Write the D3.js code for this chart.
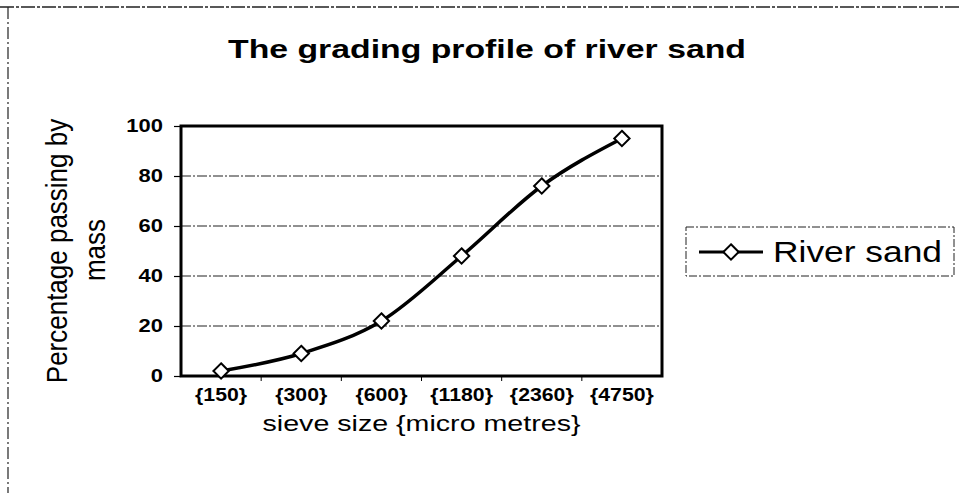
<!DOCTYPE html>
<html>
<head>
<meta charset="utf-8">
<script src="https://cdn.jsdelivr.net/npm/d3@7"></script>
<style>
  html, body { margin: 0; padding: 0; background: #fff; }
  svg { display: block; }
  text { font-family: "Liberation Sans", Arial, sans-serif; fill: #000; }
</style>
</head>
<body>
<svg id="chart" width="960" height="493"></svg>
<script>
// ---- data ----
const categories = ["{150}", "{300}", "{600}", "{1180}", "{2360}", "{4750}"];
const riverSand = [2, 9, 22, 48, 76, 95];
const yTicks = [0, 20, 40, 60, 80, 100];
const seriesName = "River sand";
const titleText = "The grading profile of river sand";
const xTitle = "sieve size {micro metres}";
const yTitleLines = ["Percentage passing by", "mass"];

const svg = d3.select("#chart");
const plot = { left: 181, right: 662, top: 126, bottom: 376 };

const x = d3.scaleBand().domain(categories).range([plot.left, plot.right]).paddingInner(0).paddingOuter(0);
const y = d3.scaleLinear().domain([0, 100]).range([plot.bottom, plot.top]);

// outer chart border (dashed, top & left)
svg.append("line").attr("x1", 0).attr("x2", 960).attr("y1", 7).attr("y2", 7)
  .attr("stroke", "#222").attr("stroke-width", 1.5).attr("stroke-dasharray", "14,2,3,2");
svg.append("line").attr("x1", 8).attr("x2", 8).attr("y1", 7).attr("y2", 493)
  .attr("stroke", "#222").attr("stroke-width", 1.2).attr("stroke-dasharray", "12,3,2,3");

// title
svg.append("text").attr("x", 487).attr("y", 58).attr("text-anchor", "middle")
  .attr("font-size", 26).attr("font-weight", "bold")
  .attr("textLength", 518).attr("lengthAdjust", "spacingAndGlyphs")
  .text(titleText);

// gridlines
svg.append("g").selectAll("line").data(yTicks.filter(d => d > 0 && d < 100)).join("line")
  .attr("x1", plot.left).attr("x2", plot.right)
  .attr("y1", d => y(d)).attr("y2", d => y(d))
  .attr("stroke", "#222").attr("stroke-width", 1.2).attr("stroke-dasharray", "10,2,2,2");

// y axis
const yAxis = d3.axisLeft(y).tickValues(yTicks).tickSize(7).tickPadding(11).tickFormat(d3.format("d"));
const gy = svg.append("g").attr("transform", `translate(${plot.left},0)`).call(yAxis);
gy.select(".domain").remove();
gy.selectAll(".tick line").attr("stroke", "#000").attr("stroke-width", 1.2);
gy.selectAll(".tick text").attr("font-size", 18).attr("font-weight", "bold")
  .attr("font-family", "Liberation Sans, Arial, sans-serif").attr("fill", "#000")
  .each(function() { const w = this.getComputedTextLength();
    d3.select(this).attr("textLength", w * 1.22).attr("lengthAdjust", "spacingAndGlyphs"); });

// x axis
const xAxis = d3.axisBottom(x).tickSize(0).tickPadding(12);
const gx = svg.append("g").attr("transform", `translate(0,${plot.bottom})`).call(xAxis);
gx.select(".domain").remove();
gx.selectAll(".tick text").attr("font-size", 18).attr("font-weight", "bold")
  .attr("font-family", "Liberation Sans, Arial, sans-serif").attr("fill", "#000")
  .each(function() { const w = this.getComputedTextLength();
    d3.select(this).attr("textLength", w * 1.18).attr("lengthAdjust", "spacingAndGlyphs"); });
// category boundary tick marks
svg.append("g").selectAll("line").data(categories.slice(1)).join("line")
  .attr("x1", d => x(d)).attr("x2", d => x(d))
  .attr("y1", plot.bottom).attr("y2", plot.bottom + 5)
  .attr("stroke", "#000").attr("stroke-width", 1);

// plot frame
svg.append("rect").attr("x", plot.left).attr("y", plot.top)
  .attr("width", plot.right - plot.left).attr("height", plot.bottom - plot.top)
  .attr("fill", "none").attr("stroke", "#000").attr("stroke-width", 3);

// axis titles
svg.append("text").attr("x", (plot.left + plot.right) / 2).attr("y", 431)
  .attr("text-anchor", "middle").attr("font-size", 22)
  .attr("textLength", 318).attr("lengthAdjust", "spacingAndGlyphs")
  .text(xTitle);

const yTitlePos = [[57, 251], [95, 250]];
yTitleLines.forEach((t, i) => {
  svg.append("text")
    .attr("transform", `translate(${yTitlePos[i][0]},${yTitlePos[i][1]}) scale(1.12,1) rotate(-90)`)
    .attr("text-anchor", "middle").attr("dominant-baseline", "central")
    .attr("font-size", 26).text(t);
});

// series line
const pts = categories.map((c, i) => [x(c) + x.bandwidth() / 2, y(riverSand[i])]);
const line = d3.line().curve(d3.curveMonotoneX);
svg.append("path").attr("d", line(pts)).attr("fill", "none")
  .attr("stroke", "#000").attr("stroke-width", 3.5).attr("stroke-linejoin", "round");

const diamond = d3.symbol().type(d3.symbolDiamond2 || d3.symbolDiamond).size(150);
svg.append("g").selectAll("path").data(pts).join("path")
  .attr("transform", d => `translate(${d[0]},${d[1]})`)
  .attr("d", diamond()).attr("fill", "#fff").attr("stroke", "#000").attr("stroke-width", 2);

// legend
const lg = svg.append("g");
lg.append("rect").attr("x", 686).attr("y", 227).attr("width", 268).attr("height", 49)
  .attr("fill", "none").attr("stroke", "#222").attr("stroke-width", 1).attr("stroke-dasharray", "8,2,2,2");
lg.append("line").attr("x1", 699).attr("x2", 763).attr("y1", 252).attr("y2", 252)
  .attr("stroke", "#000").attr("stroke-width", 3);
lg.append("path").attr("transform", "translate(731,252)").attr("d", diamond())
  .attr("fill", "#fff").attr("stroke", "#000").attr("stroke-width", 2);
lg.append("text").attr("x", 773).attr("y", 262).attr("font-size", 30)
  .attr("textLength", 169).attr("lengthAdjust", "spacingAndGlyphs").text(seriesName);
</script>
</body>
</html>
